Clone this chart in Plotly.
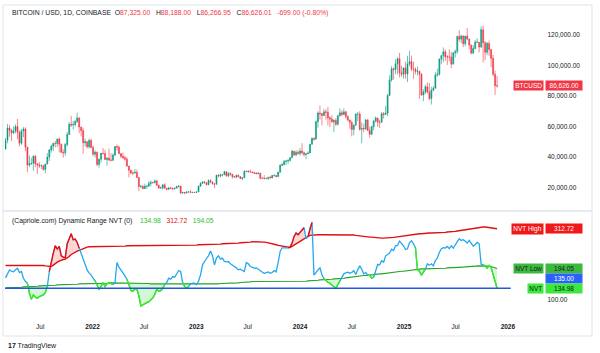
import numpy as np
import pandas as pd
import plotly.graph_objects as go

# ---------------- data (weekly) ----------------
week_start = "2021-03-01"
first_open_k = 45.2  # thousands USD

btc_close_k = [
    # 2021
    51.0, 59.0, 57.5, 55.8, 57.1, 60.0, 56.2, 49.0, 57.0, 58.3, 46.5, 34.7, 35.7, 35.8, 40.5, 35.6, 34.7, 34.2, 34.3, 31.8,
    35.4, 39.9, 44.6, 47.1, 48.9, 48.8, 51.8, 48.3, 43.0, 42.7, 48.2, 54.7, 61.5, 61.0, 61.3, 63.3, 65.5, 59.7, 57.3, 49.4,
    50.0, 46.7, 50.8, 46.2,
    # 2022
    41.8, 43.1, 35.1, 38.5, 42.4, 42.2, 38.4, 39.1, 38.0, 37.8, 41.3, 46.8, 46.4, 42.2, 40.4, 39.5, 38.5, 34.0, 31.3, 29.4,
    29.4, 29.9, 26.6, 20.6, 20.7, 19.3, 20.8, 20.8, 22.6, 23.3, 23.2, 24.3, 21.5, 19.5, 19.8, 21.8, 19.4, 18.8, 19.6, 19.4,
    19.2, 19.6, 20.6, 20.9, 16.3, 16.7, 16.4, 17.1, 17.1, 16.7, 16.8, 16.7,
    # 2023
    17.1, 20.9, 22.7, 23.7, 23.0, 21.8, 24.6, 23.5, 22.4, 22.1, 28.0, 27.5, 28.2, 28.3, 30.3, 27.6, 29.2, 28.7, 27.0, 26.8,
    28.0, 27.1, 25.9, 26.3, 30.5, 30.6, 30.3, 30.2, 29.8, 29.3, 29.0, 29.3, 26.1, 26.0, 25.8, 25.9, 26.6, 26.2, 27.9, 27.9,
    27.1, 30.0, 34.5, 35.0, 37.1, 37.4, 37.8, 39.5, 43.8, 41.4, 43.0, 42.3,
    # 2024
    43.9, 42.8, 41.6, 42.1, 42.6, 48.3, 52.1, 51.7, 63.1, 68.9, 68.4, 67.2, 69.6, 69.3, 65.7, 64.9, 63.1, 64.0, 61.5, 67.0,
    69.0, 67.8, 69.6, 66.6, 64.2, 62.7, 58.0, 60.8, 68.2, 68.2, 58.1, 58.7, 58.4, 64.2, 57.3, 54.9, 59.9, 63.6, 65.6, 62.8,
    62.8, 68.4, 67.9, 68.7, 80.4, 90.5, 97.9, 97.3, 101.2, 104.5, 95.2, 94.3, 98.4,
    # 2025
    94.5, 101.1, 102.6, 97.7, 97.5, 96.1, 96.3, 94.3, 80.7, 82.6, 86.1, 82.5, 78.3, 83.8, 85.1, 93.7, 94.3, 104.1, 106.5, 109.0,
    105.7, 105.6, 105.6, 100.9, 108.4, 109.2, 119.1, 117.3, 119.4, 114.2, 119.3, 117.4, 113.5, 108.2, 111.1, 115.3, 115.3, 112.2, 123.5, 115.0,
    108.7, 114.5, 110.5, 104.7, 94.2, 86.8, 86.626,
]
btc_high_k = [
    52.6, 61.7, 61.0, 58.4, 60.0, 61.3, 64.9, 57.5, 58.4, 59.6, 59.5, 46.6, 40.9, 39.5, 40.9, 41.3, 35.8, 36.6, 35.1, 34.6,
    35.4, 42.6, 45.3, 48.1, 49.4, 50.5, 51.9, 52.9, 48.8, 45.0, 49.2, 56.5, 62.9, 67.0, 63.7, 64.3, 69.0, 66.3, 59.3, 59.2,
    51.9, 50.2, 52.1, 52.0,
    47.5, 44.4, 43.5, 38.9, 42.6, 45.8, 44.7, 39.8, 45.4, 42.5, 42.3, 47.0, 48.2, 47.5, 42.4, 42.9, 40.8, 40.0, 34.2, 31.4,
    30.6, 32.2, 31.7, 26.9, 21.9, 21.5, 22.4, 21.6, 24.3, 24.6, 23.6, 25.2, 25.1, 21.8, 20.6, 21.9, 22.8, 19.7, 20.4, 20.5,
    19.9, 19.7, 21.1, 21.5, 21.0, 17.2, 16.8, 17.3, 17.4, 18.4, 17.0, 16.9,
    17.2, 21.2, 23.3, 23.9, 24.2, 23.4, 25.2, 25.2, 23.9, 22.6, 28.4, 28.9, 29.2, 28.8, 31.0, 30.5, 30.0, 29.8, 28.6, 27.6,
    28.3, 28.4, 27.3, 26.8, 31.4, 31.0, 31.4, 31.8, 30.4, 29.7, 30.0, 30.2, 29.6, 26.8, 28.1, 26.3, 26.9, 27.5, 28.1, 28.6,
    28.0, 30.4, 35.2, 35.9, 38.0, 37.9, 38.4, 39.9, 44.7, 43.4, 44.4, 44.4,
    45.9, 49.0, 43.6, 42.2, 43.8, 48.6, 52.8, 52.9, 64.0, 70.0, 73.8, 68.6, 71.5, 71.2, 72.7, 66.8, 67.2, 64.7, 65.5, 67.6,
    71.9, 70.6, 71.9, 70.2, 67.3, 64.5, 63.8, 61.4, 68.4, 69.4, 70.0, 62.7, 61.8, 65.0, 64.9, 59.8, 60.6, 64.1, 66.5, 65.5,
    64.5, 69.4, 69.5, 73.6, 81.5, 93.5, 99.6, 98.7, 104.0, 105.3, 108.3, 99.9, 98.8,
    102.5, 106.4, 109.6, 106.5, 102.5, 98.8, 99.5, 96.5, 95.0, 84.4, 87.4, 88.8, 88.5, 86.1, 86.4, 95.8, 97.9, 104.9, 106.7, 111.9,
    110.4, 106.8, 110.5, 108.9, 108.5, 110.5, 119.5, 123.2, 120.2, 119.8, 119.4, 124.5, 117.6, 113.4, 113.3, 116.8, 117.9, 115.4, 125.7, 126.2,
    115.9, 115.5, 116.4, 110.5, 107.0, 96.6, 93.0,
]
btc_low_k = [
    45.0, 49.0, 53.3, 50.4, 55.0, 55.5, 51.5, 47.0, 47.9, 53.0, 43.8, 30.0, 33.4, 34.8, 31.0, 33.3, 28.8, 32.7, 32.1, 31.0,
    29.3, 35.2, 37.3, 42.8, 43.9, 46.3, 46.6, 43.0, 43.0, 39.6, 40.8, 46.9, 54.4, 59.7, 58.0, 60.0, 62.3, 55.6, 53.5, 42.0,
    46.8, 45.5, 45.6, 45.7,
    40.5, 39.6, 34.0, 32.9, 36.3, 41.8, 38.0, 34.3, 37.2, 37.2, 37.6, 40.5, 44.2, 42.0, 39.2, 38.6, 37.6, 33.7, 26.7, 28.6,
    28.0, 29.3, 26.6, 17.6, 19.6, 18.6, 19.0, 19.2, 20.8, 20.7, 22.4, 22.7, 20.8, 19.5, 19.5, 18.5, 19.3, 18.1, 18.5, 19.2,
    18.2, 18.7, 19.2, 20.0, 15.6, 16.1, 15.5, 16.0, 16.7, 16.5, 16.4, 16.5,
    16.6, 17.2, 20.4, 22.3, 22.6, 21.4, 21.5, 22.8, 21.9, 19.6, 21.9, 26.6, 26.5, 27.3, 28.2, 27.1, 26.9, 27.7, 25.8, 26.4,
    25.9, 26.6, 25.4, 24.8, 26.3, 29.9, 29.7, 30.0, 29.5, 28.9, 28.6, 28.7, 25.2, 25.8, 25.4, 25.4, 24.9, 26.0, 26.0, 27.2,
    26.5, 26.9, 29.9, 34.1, 34.5, 34.8, 35.6, 37.0, 39.5, 40.5, 40.5, 41.5,
    40.8, 41.5, 40.3, 38.5, 41.8, 42.5, 48.2, 50.5, 51.7, 59.2, 64.5, 60.8, 66.8, 64.5, 60.7, 59.6, 62.4, 56.5, 60.2, 60.7,
    66.6, 66.6, 67.6, 65.1, 63.4, 58.4, 53.5, 54.3, 60.7, 63.5, 57.2, 49.0, 56.2, 57.8, 57.2, 52.6, 54.6, 57.5, 62.6, 59.8,
    58.9, 62.4, 65.1, 67.5, 66.8, 80.2, 89.4, 90.8, 94.3, 94.2, 92.2, 92.5, 91.4,
    91.2, 89.2, 99.5, 96.2, 91.2, 94.1, 93.4, 78.2, 80.1, 76.6, 81.2, 81.6, 77.2, 74.4, 83.1, 85.1, 92.8, 93.4, 100.8, 102.1,
    103.1, 100.4, 102.7, 98.2, 100.9, 105.3, 107.5, 115.7, 114.7, 112.0, 112.6, 116.8, 110.6, 107.3, 107.3, 110.6, 114.7, 108.7, 111.5, 102.0,
    103.5, 106.8, 106.3, 98.9, 93.0, 80.6, 85.5,
]

nvt_values = [
    166, 180, 190, 186, 184, 190, 195, 182, 185, 165,
    155, 150, 120, 102, 115, 108, 105, 110, 113, 115,
    122, 140, 185, 215, 240, 262, 252, 260, 232, 228,
    226, 268, 282, 298, 280, 282, 272, 255, 240, 218,
    202, 190, 180, 175, 165, 157, 145, 132, 140, 152,
    140, 148, 152, 150, 146, 152, 212, 198, 190, 182,
    172, 162, 145, 128, 126, 132, 132, 112, 82, 86,
    89, 92, 95, 100, 106, 116, 132, 126, 128, 134,
    146, 152, 165, 162, 170, 168, 178, 188, 185, 152,
    140, 135, 140, 148, 150, 150, 146, 156, 175, 205,
    215, 222, 232, 246, 232, 205, 225, 232, 222, 225,
    215, 214, 215, 208, 203, 200, 196, 190, 192, 188,
    185, 212, 208, 200, 198, 195, 196, 192, 186, 182,
    179, 182, 184, 180, 182, 188, 184, 212, 245, 256,
    255, 256, 256, 258, 270, 290, 300, 295, 302, 308,
    316, 283, 289, 315, 332, 174, 184, 190, 196, 175,
    164, 158, 153, 150, 145, 139, 134, 146, 156, 170,
    178, 181, 183, 180, 182, 188, 176, 190, 202, 192,
    178, 182, 174, 174, 165, 168, 185, 206, 205, 217,
    213, 232, 236, 240, 252, 248, 262, 263, 276, 270,
    262, 251, 253, 271, 277, 268, 256, 190, 186, 174,
    184, 192, 208, 204, 208, 202, 218, 226, 242, 253,
    256, 255, 260, 253, 262, 255, 265, 275, 283, 278,
    280, 276, 270, 278, 268, 261, 265, 272, 268, 207,
    205, 202, 195, 203, 197, 175, 158, 134.98,
]
nvt_high = [
    203, 203, 204, 204, 204, 205, 205, 205, 205, 205, 205, 205, 205, 204, 204, 204, 204, 203, 203, 203, 202, 202, 201, 200,
    204, 209, 213, 216, 219, 221, 222, 225, 230, 236, 240, 243, 246, 248, 251, 254, 256, 258, 259,
    259, 259, 260, 260, 260, 260, 260, 261, 261, 261, 261, 261, 261, 261, 261,
    261, 261, 261, 262, 262, 262, 262, 262, 262, 262, 262, 262, 262, 263, 263, 263, 263, 263, 263, 263, 263, 263, 263, 263, 263, 263, 263,
    263, 263, 263, 263, 263, 263, 264, 264, 264, 264, 264, 264, 265, 265, 265, 265, 265, 266, 266, 266, 266, 267, 267, 267, 268, 268, 268, 268, 269, 269,
    269, 270, 270, 271, 271, 272, 272, 273, 273, 274, 274, 275, 275,
    274, 274, 273, 272, 271, 270, 268, 267, 265, 263,
    262, 261, 259, 258, 256,
    257, 260, 264, 268, 272, 276, 280, 283, 287, 290, 293,
    294, 295, 295, 295, 295, 295, 295, 295, 295, 295, 295, 295, 295, 296, 296, 296, 296, 296,
    295, 295, 294, 294, 293, 292, 292, 291, 290, 290, 289, 288, 288, 287, 287, 286, 286, 285, 285,
    285, 285, 286, 286, 287, 288, 289, 290, 291, 292, 293, 294, 295, 296, 297, 297, 298, 298,
    298, 299, 299, 299, 300, 300, 300, 301, 301, 301, 302, 302, 302, 303, 303,
    303, 304, 305, 306, 307, 308, 309, 311, 312, 313, 314, 315, 316, 317, 317, 318,
    318, 318, 317, 317, 316, 315, 314, 312.72,
]
nvt_low = [
    136, 136, 136, 137, 137, 137, 138, 138, 138, 139, 139, 140, 140,
    140, 141, 141, 141, 142, 142, 142, 143, 143, 143, 144, 144, 144, 145, 145, 145, 146, 146,
    146, 146, 147, 147, 147, 147, 148, 148, 148, 148, 148, 149, 149, 149, 149, 149, 150, 150, 150, 150, 150, 150, 151, 151, 151, 151, 151, 151, 151,
    151, 151, 151, 150, 150, 150, 150, 150, 149, 149, 149, 149, 149, 148, 148, 148, 148, 148, 147, 147, 147, 147, 147, 147, 147,
    146, 146, 146, 146, 146, 146, 146, 146, 146, 146, 146, 146, 147, 147, 147, 147, 147, 147, 148, 148, 148, 148, 148, 149, 149, 149, 149, 150, 150, 150,
    150, 151, 151, 152, 152, 153, 153, 154, 154, 155, 155, 156, 156,
    156, 156, 156, 156, 156, 155, 155, 155, 155, 155, 155, 154, 154, 154, 154,
    154, 154, 154, 154, 155, 155, 155, 156, 156, 157, 157, 158, 158, 159, 159, 160, 160, 160,
    161, 161, 162, 162, 163, 163, 164, 164, 165, 165, 166,
    167, 167, 168, 169, 170, 170, 171, 172, 173, 173, 174, 175, 175, 176, 177, 177, 178, 178, 179,
    180, 180, 181, 182, 183, 183, 184, 185, 186, 186, 187, 188, 189, 190, 190, 191, 192, 193,
    193, 193, 193, 194, 194, 194, 194, 194, 195, 195, 195, 195, 195, 196, 196,
    196, 196, 197, 197, 197, 198, 198, 199, 199, 200, 200, 201, 201, 202, 202, 203,
    203, 203, 202, 201, 200, 198, 196, 194.05,
]
nvt_base_level = 135.0

# last daily candle shown in the header
hdr_open, hdr_high, hdr_low, hdr_close = 87325.00, 88188.00, 86266.95, 86626.01
hdr_change, hdr_change_pct = -699.00, -0.80

x_tick_dates = ["2021-07-01", "2022-01-01", "2022-07-01", "2023-01-01", "2023-07-01",
                "2024-01-01", "2024-07-01", "2025-01-01", "2025-07-01", "2026-01-01"]
x_tick_text = ["Jul", "<b>2022</b>", "Jul", "<b>2023</b>", "Jul", "<b>2024</b>", "Jul",
               "<b>2025</b>", "Jul", "<b>2026</b>"]
price_ticks = [20000, 40000, 60000, 80000, 100000, 120000]
nvt_ticks = [100]

# ---------------- build ----------------
n = len(btc_close_k)
dates = pd.date_range(week_start, periods=n, freq="7D")

close = np.array(btc_close_k) * 1000
opn = np.concatenate([[first_open_k], btc_close_k[:-1]]) * 1000
high = np.maximum.reduce([np.array(btc_high_k) * 1000, opn, close])
low = np.minimum.reduce([np.array(btc_low_k) * 1000, opn, close])

nvt = np.array(nvt_values, dtype=float)
hi = np.array(nvt_high, dtype=float)
lo = np.array(nvt_low, dtype=float)

zone = np.where(nvt > hi, 1, np.where(nvt < lo, -1, 0))

def overlay(z):
    # a segment takes the colour of its end point (TradingView style)
    m = zone == z
    m2 = m.copy()
    m2[:-1] |= m[1:]
    return np.where(m2, nvt, np.nan)

W, H = 600, 353
def py(px):
    return 1 - px / H

x_dom = [5 / W, 515 / W]
top_dom = [py(210), py(5)]
bot_dom = [py(318), py(212)]

RED = "#F23645"
TEAL = "#089981"
DARK = "#131722"
FONT = "Liberation Sans, Arial, sans-serif"

fig = go.Figure()

fig.add_trace(go.Candlestick(
    x=dates, open=opn, high=high, low=low, close=close,
    increasing=dict(line=dict(color=TEAL, width=0.6), fillcolor=TEAL),
    decreasing=dict(line=dict(color=RED, width=0.6), fillcolor=RED),
    whiskerwidth=0, xaxis="x", yaxis="y", showlegend=False, hoverinfo="skip",
))

# fills outside the dynamic range
fig.add_trace(go.Scatter(x=dates, y=hi, mode="lines", line=dict(width=0), xaxis="x2", yaxis="y2",
                         showlegend=False, hoverinfo="skip"))
fig.add_trace(go.Scatter(x=dates, y=np.maximum(nvt, hi), mode="lines", line=dict(width=0), fill="tonexty",
                         fillcolor="rgba(255,70,70,0.22)", xaxis="x2", yaxis="y2", showlegend=False, hoverinfo="skip"))
fig.add_trace(go.Scatter(x=dates, y=lo, mode="lines", line=dict(width=0), xaxis="x2", yaxis="y2",
                         showlegend=False, hoverinfo="skip"))
fig.add_trace(go.Scatter(x=dates, y=np.minimum(nvt, lo), mode="lines", line=dict(width=0), fill="tonexty",
                         fillcolor="rgba(60,220,60,0.22)", xaxis="x2", yaxis="y2", showlegend=False, hoverinfo="skip"))

# band lines
fig.add_trace(go.Scatter(x=dates, y=hi, mode="lines", line=dict(color="#E01010", width=1.4),
                         xaxis="x2", yaxis="y2", showlegend=False, hoverinfo="skip"))
fig.add_trace(go.Scatter(x=dates, y=lo, mode="lines", line=dict(color="#25A525", width=1.1),
                         xaxis="x2", yaxis="y2", showlegend=False, hoverinfo="skip"))

# NVT
fig.add_trace(go.Scatter(x=dates, y=nvt, mode="lines", line=dict(color="#22A7F0", width=1.3),
                         xaxis="x2", yaxis="y2", showlegend=False, hoverinfo="skip"))
fig.add_trace(go.Scatter(x=dates, y=overlay(1), mode="lines", line=dict(color="#FF0000", width=1.3),
                         xaxis="x2", yaxis="y2", showlegend=False, hoverinfo="skip", connectgaps=False))
fig.add_trace(go.Scatter(x=dates, y=overlay(-1), mode="lines", line=dict(color="#3CF000", width=1.3),
                         xaxis="x2", yaxis="y2", showlegend=False, hoverinfo="skip", connectgaps=False))

x_range = ["2021-02-27", "2026-01-11"]
tick_font = dict(family=FONT, size=6.5, color=DARK)

fig.update_layout(
    width=W, height=H, margin=dict(l=0, r=0, t=0, b=0),
    paper_bgcolor="white", plot_bgcolor="white",
    xaxis=dict(domain=x_dom, anchor="y", type="date", range=x_range, showticklabels=False,
               showgrid=False, zeroline=False, rangeslider=dict(visible=False), ticks=""),
    xaxis2=dict(domain=x_dom, anchor="y2", type="date", matches="x", range=x_range,
                tickvals=x_tick_dates, ticktext=x_tick_text, tickfont=tick_font,
                showgrid=False, zeroline=False, ticks="", ticklabelstandoff=3),
    yaxis=dict(domain=top_dom, range=[5200, 139700], side="right", anchor="free", position=551 / W,
               tickvals=price_ticks, tickformat=",.2f", tickfont=tick_font, showgrid=False,
               zeroline=False, ticks=""),
    yaxis2=dict(domain=bot_dom, range=[46, 363], side="right", anchor="free", position=551 / W,
                tickvals=nvt_ticks, tickformat=".2f", tickfont=tick_font, showgrid=False,
                zeroline=False, ticks=""),
)

# horizontal base level
fig.add_shape(type="line", xref="x2 domain", x0=0, x1=1, yref="y2", y0=nvt_base_level, y1=nvt_base_level,
              line=dict(color="#2458D8", width=1.4))

# frame and pane separator
fig.add_shape(type="rect", xref="paper", yref="paper", x0=3 / W, x1=597 / W, y0=py(336), y1=py(5),
              line=dict(color="#E0E3EB", width=1), layer="below")
fig.add_shape(type="line", xref="paper", yref="paper", x0=3 / W, x1=597 / W, y0=py(211), y1=py(211),
              line=dict(color="#E0E3EB", width=1.5))

sp2 = "&nbsp;&nbsp;"
sp3 = "&nbsp;&nbsp;&nbsp;"
def red(t):
    return f"<span style='color:{RED}'>{t}</span>"

header = ("BITCOIN / USD, 1D, COINBASE" + sp2 + "O" + red(f"{hdr_open:,.2f}") + sp3 + "H" + red(f"{hdr_high:,.2f}")
          + sp3 + "L" + red(f"{hdr_low:,.2f}") + sp3 + "C" + red(f"{hdr_close:,.2f}") + sp3
          + red(f"{hdr_change:,.2f} ({hdr_change_pct:.2f}%)"))
fig.add_annotation(xref="paper", yref="paper", x=10 / W, y=py(13), xanchor="left", yanchor="middle",
                   text=header, showarrow=False, font=dict(family=FONT, size=6.8, color=DARK))

GREEN_T = "#2DBE2D"
sub = ("(Capriole.com) Dynamic Range NVT (0)" + "&nbsp;&nbsp;&nbsp;&nbsp;"
       + f"<span style='color:{GREEN_T}'>{nvt[-1]:.2f}</span>" + sp3
       + f"<span style='color:#E01010'>{hi[-1]:.2f}</span>" + sp3
       + f"<span style='color:{GREEN_T}'>{lo[-1]:.2f}</span>")
fig.add_annotation(xref="paper", yref="paper", x=10 / W, y=py(221), xanchor="left", yanchor="middle",
                   text=sub, showarrow=False, font=dict(family=FONT, size=6.8, color=DARK))

def label(name, value, yref, yval, bg, fg, name_bg=None, name_fg=None, yshift=0):
    if name is not None:
        fig.add_annotation(xref="paper", yref=yref, x=548.5 / W, y=yval, xanchor="right", yanchor="middle",
                           text=name, showarrow=False, bgcolor=name_bg or bg, borderpad=1.2,
                           font=dict(family=FONT, size=6.5, color=name_fg or fg), yshift=yshift)
    fig.add_annotation(xref="paper", yref=yref, x=549.5 / W, y=yval, xanchor="left", yanchor="middle",
                       text=value, showarrow=False, bgcolor=bg, borderpad=1.2, width=34, align="center",
                       font=dict(family=FONT, size=6.5, color=fg), yshift=yshift)

label("BTCUSD", f"{close[-1]:,.2f}", "y", close[-1], RED, "white")
label("NVT High", f"{hi[-1]:.2f}", "y2", hi[-1], "#F01818", "white")
label("NVT Low", f"{lo[-1]:.2f}", "y2", lo[-1], "#3DBA3D", DARK)
label(None, f"{nvt_base_level:.2f}", "y2", nvt_base_level, "#2962FF", "white", yshift=10)
label("NVT", f"{nvt[-1]:.2f}", "y2", nvt[-1], "#3CE83C", DARK)

fig.add_annotation(xref="paper", yref="paper", x=6 / W, y=py(346), xanchor="left", yanchor="middle",
                   text="<b>17</b> TradingView", showarrow=False, font=dict(family=FONT, size=7, color=DARK))

fig.write_html("out.html")
